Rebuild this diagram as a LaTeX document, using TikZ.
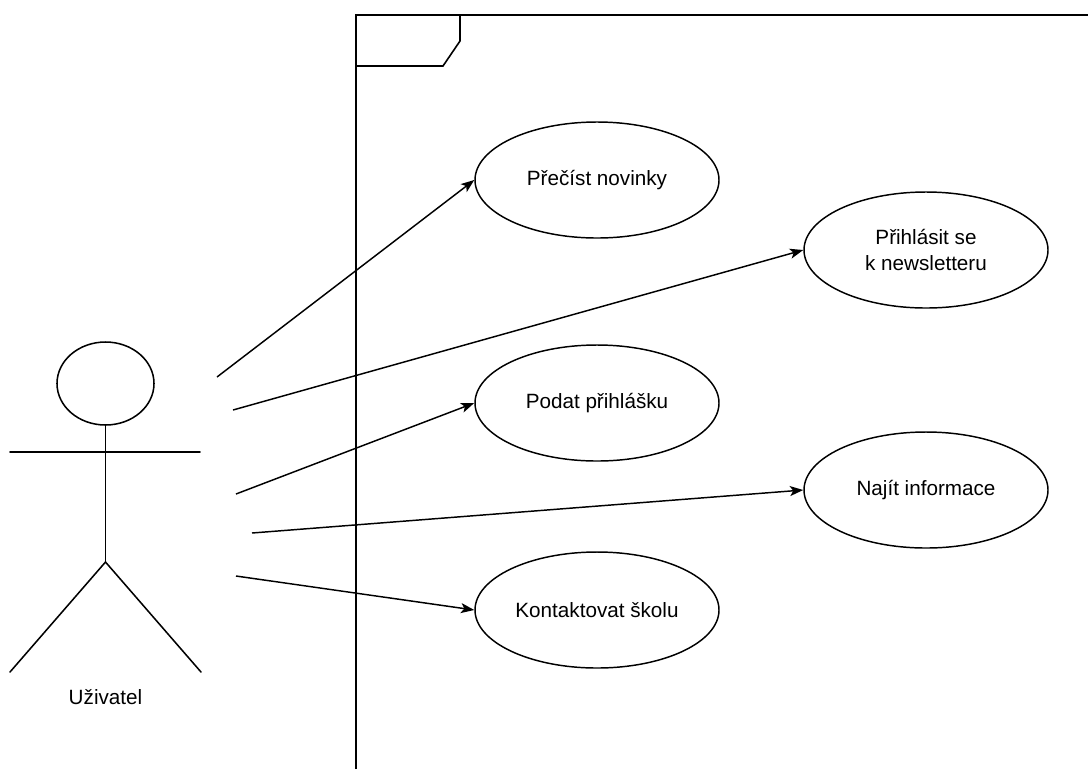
\documentclass[tikz,border=0pt]{standalone}
\usepackage{fontspec}
\setmainfont{Liberation Sans}
\usetikzlibrary{shapes.geometric,arrows.meta}

\tikzset{
  usecase/.style={draw, ellipse, line width=1.1pt, inner sep=0pt,
    minimum width=183pt, minimum height=87pt, align=center,
    font=\fontsize{15.5}{19}\selectfont},
  link/.style={line width=1.1pt, -{Stealth[length=10pt,width=7.5pt,inset=2.5pt]}},
  figure/.style={line width=1.15pt, line cap=round},
  frameline/.style={line width=1.2pt}
}

\begin{document}
\begin{tikzpicture}[x=0.75pt, y=-0.75pt]
  \useasboundingbox (0,0) rectangle (1088,769);

  % system boundary with its name tab
  \draw[frameline] (356,769) -- (356,15) -- (1088,15);
  \draw[frameline] (356,66) -- (443,66) -- (460,41) -- (460,15);

  % actor
  \node[draw, ellipse, line width=1.15pt, minimum width=72.75pt, minimum height=62.25pt, inner sep=0pt] (head) at (105.5,383.5) {};
  \coordinate (hip) at (105.5,562);
  \coordinate (handL) at (10,452);
  \coordinate (handR) at (200,452);
  \coordinate (footL) at (10,672);
  \coordinate (footR) at (201,672);
  \draw[figure] (head.south) -- (hip);
  \draw[figure] (handL) -- (handR);
  \draw[figure] (footL) -- (hip) -- (footR);
  \node[font=\fontsize{15.5}{19}\selectfont] (actor) at (105.5,697) {Uživatel};

  % use cases
  \node[usecase] (news)   at (597,180) {Přečíst novinky};
  \node[usecase] (letter) at (926,250) {Přihlásit se\\k newsletteru};
  \node[usecase] (apply)  at (597,403) {Podat přihlášku};
  \node[usecase] (info)   at (926,490) {Najít informace};
  \node[usecase] (contact) at (597,610) {Kontaktovat školu};

  % association start points beside the actor
  \coordinate (s1) at (217,377);
  \coordinate (s2) at (233,410);
  \coordinate (s3) at (236,494);
  \coordinate (s4) at (252,533);
  \coordinate (s5) at (236,576);

  \draw[link] (s1) -- (news.west);
  \draw[link] (s2) -- (letter.west);
  \draw[link] (s3) -- (apply.west);
  \draw[link] (s4) -- (info.west);
  \draw[link] (s5) -- (contact.west);
\end{tikzpicture}
\end{document}
